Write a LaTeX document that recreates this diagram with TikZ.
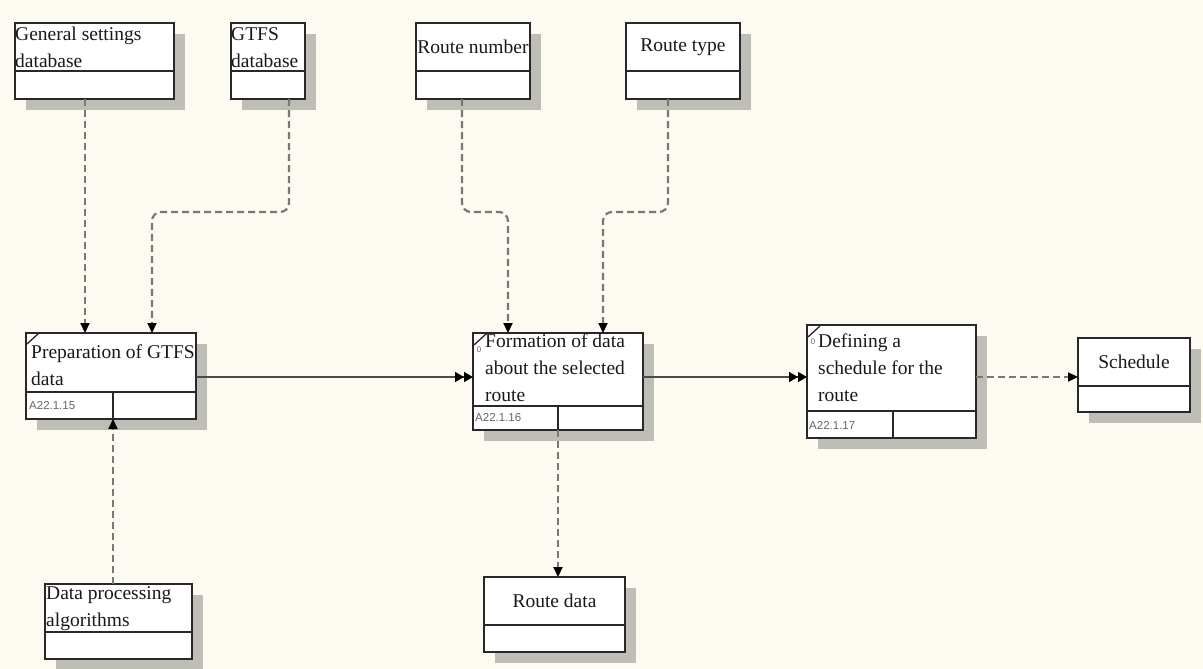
\documentclass[tikz,border=0pt]{standalone}
\usepackage{fontspec}
\setmainfont{Liberation Serif}
\newfontfamily\codefont{Liberation Sans}
\usetikzlibrary{arrows.meta,shadows}
\definecolor{bgc}{RGB}{253,250,241}
\definecolor{shd}{RGB}{190,189,182}
\definecolor{dsh}{RGB}{120,120,120}
\definecolor{edge}{RGB}{40,40,40}
\tikzset{
  box/.style={draw=edge, line width=2pt, fill=white, inner sep=0pt, outer sep=0pt,
    drop shadow={shadow xshift=11pt, shadow yshift=-11pt, fill=shd, opacity=1}},
  divline/.style={draw=edge, line width=2pt},
  lbl/.style={inner sep=1pt, align=left, text=black!90, font=\fontsize{19.5}{27}\selectfont},
  clbl/.style={inner sep=1pt, align=center, text=black!90, font=\fontsize{19.5}{27}\selectfont},
  code/.style={inner sep=0pt, text=black!60, font=\codefont\fontsize{11.5}{13}\selectfont},
  tiny/.style={inner sep=0pt, text=black!60, font=\codefont\fontsize{8}{9}\selectfont},
  dashconn/.style={draw=dsh, line width=2.2pt, dash pattern=on 7pt off 4pt, rounded corners=9pt,
    -{Triangle[length=10pt,width=9pt,color=black]}},
  solidconn/.style={draw=black!70, line width=1.4pt,
    -{Triangle[length=9pt,width=10pt,color=black]Triangle[length=9pt,width=10pt,color=black]}},
  tick/.style={draw=edge, line width=1.3pt}
}
\newcommand\mkbox[6]{%
  \node[box, minimum width={#4-#2}, minimum height={#5-#3}, anchor=north west] (#1) at (#2,#3) {};
  \draw[divline] (#2,#6) -- (#4,#6);
}
\begin{document}
\begin{tikzpicture}[x=1pt,y=-1pt]
\useasboundingbox (0,0) rectangle (1203,669);
\fill[bgc] (0,0) rectangle (1203,669);

% boxes: name, x1, y1, x2, y2, divider y
\mkbox{gs}{15}{23}{174}{99}{71}
\mkbox{gtfs}{231}{23}{305}{99}{71}
\mkbox{rn}{416}{23}{530}{99}{71}
\mkbox{rt}{626}{23}{740}{99}{71}
\mkbox{prep}{26}{333}{196}{419}{392}
\mkbox{form}{473}{333}{643}{430}{406}
\mkbox{def}{807}{325}{976}{438}{411}
\mkbox{sch}{1078}{338}{1190}{412}{386}
\mkbox{dpa}{45}{584}{192}{659}{632}
\mkbox{rd}{484}{577}{625}{652}{625}

% vertical dividers in the lower parts
\draw[divline] (113,392) -- (113,419);
\draw[divline] (558,406) -- (558,430);
\draw[divline] (893,411) -- (893,438);

% corner ticks
\draw[tick] (27,344) -- (39,333);
\draw[tick] (474,345) -- (486,334);
\draw[tick] (808,337) -- (820,326);
\node[tiny] (form-zero) at (479,350) {0};
\node[tiny] (def-zero) at (813,342) {0};

% labels
\node[lbl, anchor=north west] (gs-t) at (14,26) {General settings\\database};
\node[lbl, anchor=north west] (gtfs-t) at (230,26) {GTFS\\database};
\node[clbl] (rn-t) at (473,47) {Route number};
\node[clbl] (rt-t) at (683,47) {Route type};
\node[lbl, anchor=north west] (prep-t) at (30,344) {Preparation of GTFS\\data};
\node[lbl, anchor=north west] (form-t) at (484,333) {Formation of data\\about the selected\\route};
\node[lbl, anchor=north west] (def-t) at (817,333) {Defining a\\schedule for the\\route};
\node[clbl] (sch-t) at (1134,362) {Schedule};
\node[lbl, anchor=north west] (dpa-t) at (45,585) {Data processing\\algorithms};
\node[clbl] (rd-t) at (554.5,601) {Route data};

% codes
\node[code, anchor=west] (prep-c) at (29,406) {A22.1.15};
\node[code, anchor=west] (form-c) at (475,418) {A22.1.16};
\node[code, anchor=west] (def-c) at (809,425) {A22.1.17};

% connectors
\draw[dashconn] (85,0 |- gs.south) -- (85,0 |- prep.north);
\draw[dashconn] (289,0 |- gtfs.south) -- (289,212) -- (152,212) -- (152,0 |- prep.north);
\draw[dashconn] (462,0 |- rn.south) -- (462,212) -- (508,212) -- (508,0 |- form.north);
\draw[dashconn] (668,0 |- rt.south) -- (668,212) -- (603,212) -- (603,0 |- form.north);
\draw[solidconn] (prep.east |- 0,377) -- (form.west |- 0,377);
\draw[solidconn] (form.east |- 0,377) -- (def.west |- 0,377);
\draw[dashconn] (def.east |- 0,377) -- (sch.west |- 0,377);
\draw[dashconn] (558,0 |- form.south) -- (558,0 |- rd.north);
\draw[dashconn] (113,0 |- dpa.north) -- (113,0 |- prep.south);
\end{tikzpicture}
\end{document}
